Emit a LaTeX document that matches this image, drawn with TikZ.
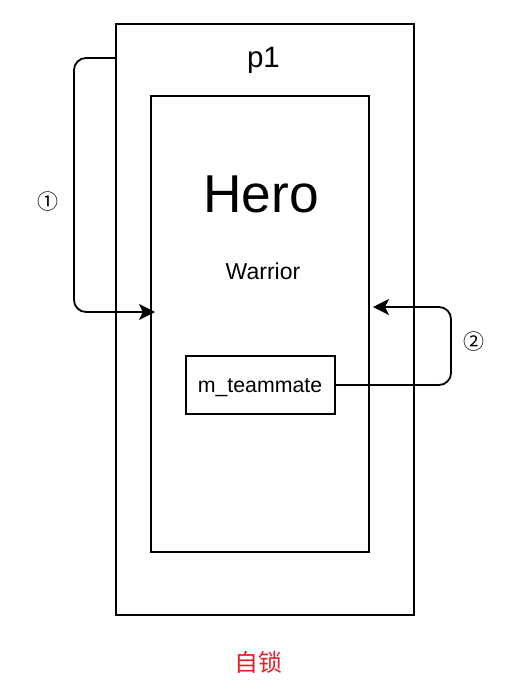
\documentclass[tikz,border=0pt]{standalone}
\usepackage{fontspec}
\setmainfont{Liberation Sans}
\newfontfamily\cjk{Noto Sans CJK SC}
\usetikzlibrary{arrows.meta}
\begin{document}
\begin{tikzpicture}[x=1pt,y=-1pt,
  box/.style={draw=black,line width=1.8pt,fill=none,inner sep=0pt,rectangle},
  conn/.style={draw=black,line width=1.8pt,rounded corners=12pt,-{Stealth[length=16pt,width=16pt,inset=4pt]}},
  lbl/.style={anchor=base,inner sep=0pt}
]
\useasboundingbox (0,0) rectangle (511,694);
\node[box,minimum width=298pt,minimum height=591pt] (outer) at (265,319.5) {};
\node[box,minimum width=218pt,minimum height=456pt] (inner) at (260,324) {};
\node[box,minimum width=149pt,minimum height=58pt] (mt) at (260.5,385) {};
\node[lbl,font=\fontsize{29.5}{33}\selectfont] (p1) at (263.5,67) {p1};
\node[lbl,font=\fontsize{53.3}{60}\selectfont] (hero) at (261,212) {Hero};
\node[lbl,font=\fontsize{23}{27}\selectfont] (warrior) at (263,279) {Warrior};
\node[lbl,font=\fontsize{21.3}{25}\selectfont] (mtt) at (260,392) {m\_teammate};
\node[font=\cjk\fontsize{21}{25}\selectfont,inner sep=0pt] (c1) at (48,202) {①};
\node[font=\cjk\fontsize{21}{25}\selectfont,inner sep=0pt] (c2) at (474,342) {②};
\node[font=\cjk\fontsize{24}{28}\selectfont,text={rgb,255:red,230;green,30;blue,40},inner sep=0pt] (zs) at (258.5,662) {自锁};
\coordinate (a1s) at (outer.west |- 0,58);
\coordinate (a1e) at (155,312);
\coordinate (a2s) at (mt.east);
\coordinate (a2e) at (373,307);
\draw[conn] (a1s) -- (74,58) -- (74,312) -- (a1e);
\draw[conn] (a2s) -- (451,385) -- (451,307) -- (a2e);
\end{tikzpicture}
\end{document}
